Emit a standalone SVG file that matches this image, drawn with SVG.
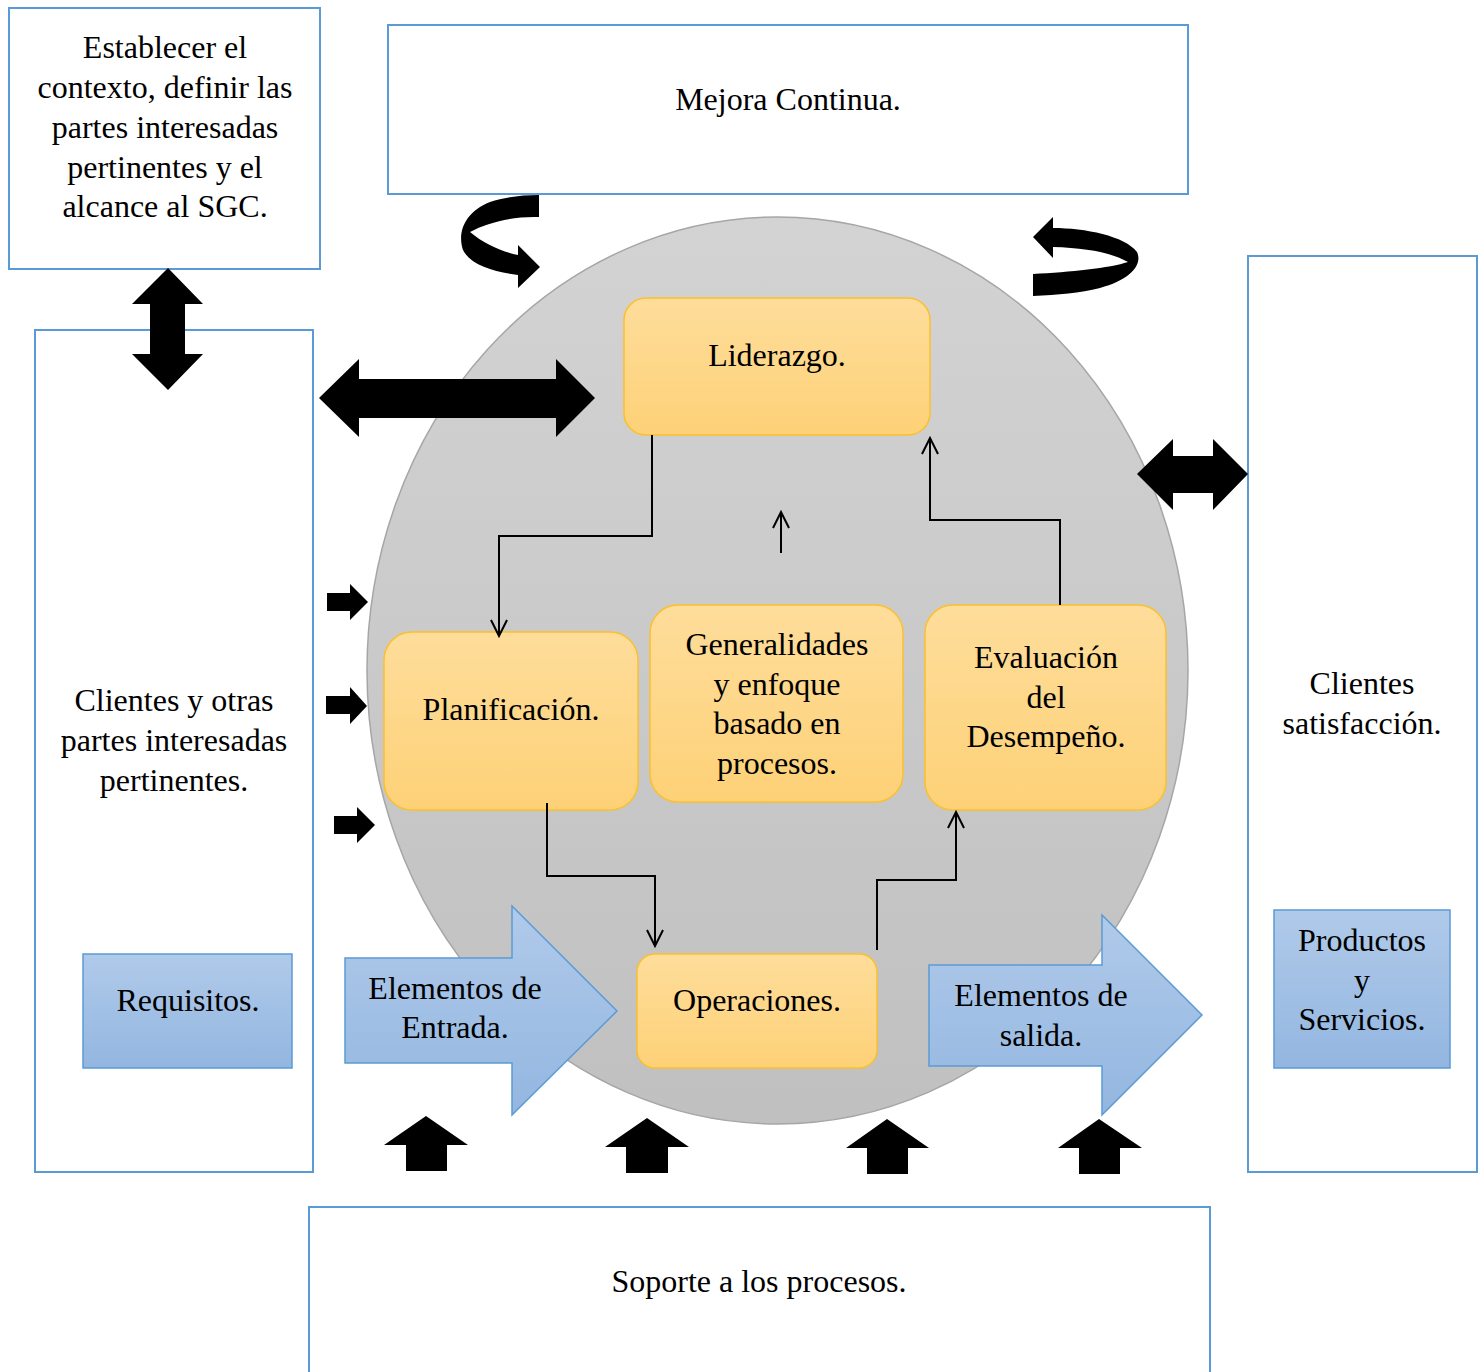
<svg xmlns="http://www.w3.org/2000/svg" width="1484" height="1372" viewBox="0 0 1484 1372">
  <defs>
    <linearGradient id="gOrange" x1="0" y1="0" x2="0" y2="1">
      <stop offset="0" stop-color="#fedd9b"/>
      <stop offset="1" stop-color="#fdd177"/>
    </linearGradient>
    <linearGradient id="gBlue" x1="0" y1="0" x2="0" y2="1">
      <stop offset="0" stop-color="#b0caea"/>
      <stop offset="1" stop-color="#93b6e0"/>
    </linearGradient>
    <linearGradient id="gGrey" x1="0" y1="0" x2="0" y2="1">
      <stop offset="0" stop-color="#d3d3d3"/>
      <stop offset="1" stop-color="#c0c0c0"/>
    </linearGradient>
    <marker id="open" viewBox="0 0 20 20" refX="18" refY="10" markerWidth="20" markerHeight="20" markerUnits="userSpaceOnUse" orient="auto">
      <path d="M2,2 L18,10 L2,18" fill="none" stroke="#000" stroke-width="2"/>
    </marker>
  </defs>
  <style>
    .frame { fill: #ffffff; stroke: #5b9bd5; stroke-width: 2; }
    .proc { fill: url(#gOrange); stroke: #fbc02d; stroke-width: 1.5; }
    .blue { fill: url(#gBlue); stroke: #5b9bd5; stroke-width: 1.5; }
    .blk { fill: #000000; }
    .link { fill: none; stroke: #000000; stroke-width: 2; marker-end: url(#open); }
    text { font-family: "Liberation Serif", "Times New Roman", serif; font-size: 32px; fill: #000; text-anchor: middle; }
  </style>

  <rect width="1484" height="1372" fill="#ffffff"/>

  <!-- outer frames -->
  <g id="contexto">
    <rect class="frame" x="9" y="8" width="311" height="261"/>
    <text x="165" y="58">Establecer el</text>
    <text x="165" y="98">contexto, definir las</text>
    <text x="165" y="138">partes interesadas</text>
    <text x="165" y="178">pertinentes y el</text>
    <text x="165" y="217">alcance al SGC.</text>
  </g>
  <g id="mejora">
    <rect class="frame" x="388" y="25" width="800" height="169"/>
    <text x="788" y="110">Mejora Continua.</text>
  </g>
  <g id="clientes-partes">
    <rect class="frame" x="35" y="330" width="278" height="842"/>
    <text x="174" y="711">Clientes y otras</text>
    <text x="174" y="751">partes interesadas</text>
    <text x="174" y="791">pertinentes.</text>
  </g>
  <g id="clientes-satisfaccion">
    <rect class="frame" x="1248" y="256" width="229" height="916"/>
    <text x="1362" y="694">Clientes</text>
    <text x="1362" y="734">satisfacción.</text>
  </g>
  <g id="soporte">
    <rect class="frame" x="309" y="1207" width="901" height="175"/>
    <text x="759" y="1292">Soporte a los procesos.</text>
  </g>

  <!-- central cycle -->
  <g id="ciclo">
    <ellipse cx="777.5" cy="670.5" rx="410.5" ry="453.5" fill="url(#gGrey)" stroke="#a6a6a6" stroke-width="1.5"/>
  </g>

  <g id="requisitos">
    <rect class="blue" x="83" y="954" width="209" height="114"/>
    <text x="188" y="1011">Requisitos.</text>
  </g>
  <g id="productos">
    <rect class="blue" x="1274" y="910" width="176" height="158"/>
    <text x="1362" y="951">Productos</text>
    <text x="1362" y="991">y</text>
    <text x="1362" y="1030">Servicios.</text>
  </g>

  <g id="entrada">
    <path class="blue" d="M345,958 L512,958 L512,906 L617,1011 L512,1115 L512,1063 L345,1063 Z"/>
    <text x="455" y="999">Elementos de</text>
    <text x="455" y="1038">Entrada.</text>
  </g>
  <g id="salida">
    <path class="blue" d="M929,965 L1102,965 L1102,915 L1202,1015 L1102,1115 L1102,1066 L929,1066 Z"/>
    <text x="1041" y="1006">Elementos de</text>
    <text x="1041" y="1046">salida.</text>
  </g>

  <g id="liderazgo">
    <rect class="proc" x="624" y="298" width="306" height="137" rx="22"/>
    <text x="777" y="366">Liderazgo.</text>
  </g>
  <g id="planificacion">
    <rect class="proc" x="384" y="632" width="254" height="178" rx="28"/>
    <text x="511" y="720">Planificación.</text>
  </g>
  <g id="generalidades">
    <rect class="proc" x="650" y="605" width="253" height="197" rx="28"/>
    <text x="777" y="655">Generalidades</text>
    <text x="777" y="695">y enfoque</text>
    <text x="777" y="734">basado en</text>
    <text x="777" y="774">procesos.</text>
  </g>
  <g id="evaluacion">
    <rect class="proc" x="925" y="605" width="241" height="205" rx="28"/>
    <text x="1046" y="668">Evaluación</text>
    <text x="1046" y="708">del</text>
    <text x="1046" y="747">Desempeño.</text>
  </g>
  <g id="operaciones">
    <rect class="proc" x="637" y="954" width="240" height="114" rx="18"/>
    <text x="757" y="1011">Operaciones.</text>
  </g>

  <!-- connectors -->
  <g id="connectors">
    <path class="link" d="M652,435 V536 H499 V636"/>
    <path class="link" d="M781,553 V512"/>
    <path class="link" d="M1060,605 V520 H930 V438"/>
    <path class="link" d="M547,803 V876 H655 V946"/>
    <path class="link" d="M877,950 V880 H956 V812"/>

    <!-- block arrows -->
    <path class="blk" d="M168,268 L203,304 L185,304 L185,354 L203,354 L168,390 L132,354 L150,354 L150,304 L132,304 Z"/>
    <path class="blk" d="M319,398 L359,359 L359,379 L556,379 L556,359 L595,398 L556,437 L556,418 L359,418 L359,437 Z"/>
    <path class="blk" d="M1137,474 L1173,439 L1173,456 L1213,456 L1213,439 L1248,474 L1213,510 L1213,493 L1173,493 L1173,510 Z"/>

    <path class="blk" d="M327,593 L350,593 L350,584 L368,602 L350,620 L350,611 L327,611 Z"/>
    <path class="blk" d="M326,696 L350,696 L350,687 L367,706 L350,724 L350,714 L326,714 Z"/>
    <path class="blk" d="M334,816 L357,816 L357,807 L375,825 L357,843 L357,834 L334,834 Z"/>

    <path class="blk" d="M426,1116 L468,1145 L447,1145 L447,1171 L406,1171 L406,1145 L384,1145 Z"/>
    <path class="blk" d="M647,1118 L689,1147 L668,1147 L668,1173 L626,1173 L626,1147 L605,1147 Z"/>
    <path class="blk" d="M887,1119 L929,1148 L908,1148 L908,1174 L867,1174 L867,1148 L846,1148 Z"/>
    <path class="blk" d="M1099,1119 L1142,1148 L1120,1148 L1120,1174 L1079,1174 L1079,1148 L1058,1148 Z"/>

    <!-- curved arrows around the improvement box -->
    <path class="blk" d="M539,195 L539,217 C515,216 488,222 470,232 C484,244 503,252 518,255 L518,245 L540,267 L518,288 L518,275 C495,272 470,265 463,250 C457,232 465,212 490,202 C505,197 522,195 539,195 Z"/>
    <path class="blk" d="M1033,237 L1053,217 L1053,228 C1085,228 1125,236 1137,252 C1143,265 1130,280 1100,288 C1080,293 1058,295 1033,296 L1033,274 C1070,272 1110,268 1128,262 C1110,252 1085,248 1053,247 L1053,258 Z"/>
  </g>
</svg>
